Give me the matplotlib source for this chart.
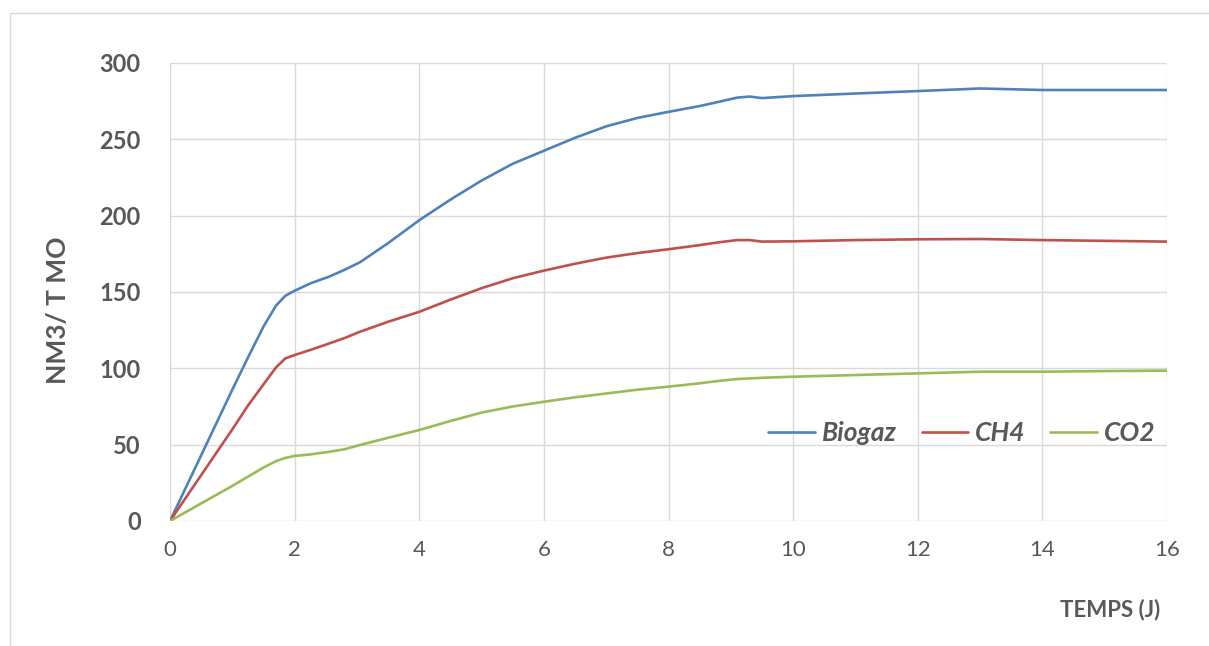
import matplotlib
matplotlib.use("Agg")
import matplotlib.pyplot as plt
from matplotlib.patches import Rectangle

plt.rcParams['font.family'] = ['Lato', 'DejaVu Sans']

# Days (J) and cumulative gas production (Nm3 / t MO)
days = [0, 0.5, 1, 1.25, 1.5, 1.7, 1.85, 2, 2.25, 2.55, 2.8, 3.05, 3.5, 4,
        4.5, 5, 5.5, 6, 6.5, 7, 7.5, 8, 8.5, 8.8, 9.1, 9.3, 9.5, 10,
        11, 12, 13, 14, 15, 16]
biogaz = [0, 43, 86, 107, 127.3, 141, 147.5, 150.8, 155.6, 160, 164.5, 169.5,
          182, 197, 210.5, 223, 234, 242.5, 251, 258.5, 264, 268, 271.8,
          274.5, 277.3, 278, 277, 278.3, 280, 281.6, 283.3, 282.3, 282.3, 282.3]
ch4 = [0, 30, 60, 75.5, 89.5, 100.5, 106.5, 108.7, 112, 116.2, 119.8, 124,
       130.5, 137, 145, 152.5, 159, 164, 168.5, 172.5, 175.5, 178, 180.7,
       182.5, 184, 184, 183, 183.2, 184, 184.5, 184.7, 184, 183.5, 183]
co2 = [0, 11.5, 23, 29, 35, 39.2, 41.3, 42.6, 43.6, 45.3, 47, 49.8, 54.5,
       59.6, 65.5, 71, 75, 78.1, 81, 83.5, 86, 88, 90.2, 91.7, 93, 93.4,
       93.8, 94.5, 95.6, 96.7, 97.8, 97.8, 98.2, 98.5]

series = [("Biogaz", biogaz, "#4f81bd"),
          ("CH4", ch4, "#c0504d"),
          ("CO2", co2, "#9bbb59")]

text_color = "#595959"
grid_color = "#d9d9d9"

fig = plt.figure(figsize=(12.09, 6.46), dpi=100)
ax = fig.add_axes([0.1406, 0.1935, 0.8247, 0.709])

for name, values, color in series:
    ax.plot(days, values, color=color, linewidth=1.9, label=name,
            solid_joinstyle='round', solid_capstyle='round')

ax.set_xlim(0, 16)
ax.set_ylim(0, 300)
ax.set_xticks(range(0, 17, 2))
ax.set_yticks(range(0, 301, 50))
ax.grid(True, color=grid_color, linewidth=1)
ax.set_axisbelow(True)
for spine in ax.spines.values():
    spine.set_visible(False)
ax.tick_params(length=0, colors=text_color)
ax.tick_params(axis='x', pad=14, labelsize=16)
ax.tick_params(axis='y', pad=21, labelsize=17)
for lbl in ax.get_yticklabels():
    lbl.set_fontweight('bold')

fig.text(0.048, 0.52, "NM3/ T MO", rotation=90, ha='center', va='center',
         fontsize=19, fontweight='bold', color=text_color)
fig.text(0.918, 0.056, "TEMPS (J)", ha='center', va='center',
         fontsize=16, fontweight='bold', color=text_color)

leg = ax.legend(loc='center right', bbox_to_anchor=(1.012, 0.192), ncol=3,
                frameon=False, handlelength=1.75, handletextpad=0.27,
                columnspacing=0.95,
                prop={'size': 19, 'weight': 'bold', 'style': 'italic'})
for t in leg.get_texts():
    t.set_color(text_color)

# light outer frame of the chart area
fig.patches.append(Rectangle((0.008, -0.01), 1.0, 0.99, transform=fig.transFigure,
                             fill=False, edgecolor="#d9d9d9", linewidth=1))

fig.savefig("out.png", dpi=100)
